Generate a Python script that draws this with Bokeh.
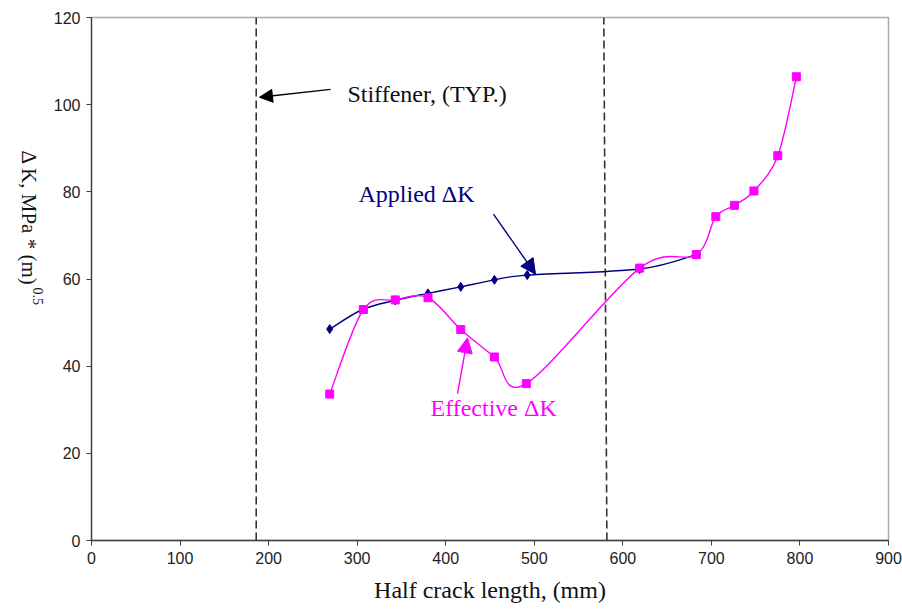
import math
from bokeh.plotting import figure
from bokeh.layouts import row
from bokeh.models import Label, Arrow, NormalHead, FixedTicker, Range1d
from bokeh.core.properties import value
from bokeh.embed import file_html
from bokeh.resources import INLINE

# ---- data ----
applied_x = [269, 306, 343, 380, 417, 455, 492, 619, 683]
applied_y = [48.5, 53.0, 55.1, 56.7, 58.2, 59.8, 60.9, 62.3, 65.6]

effective_x = [269, 307, 343, 380, 417, 455, 491, 619, 683, 705, 726, 748, 775, 796]
effective_y = [33.6, 53.0, 55.2, 55.7, 48.4, 42.1, 36.0, 62.5, 65.6, 74.3, 76.9, 80.2, 88.3, 106.4]

stiffener_x_bottom = [186, 582]
stiffener_x_top = [186, 578.5]

x_ticks = [0, 100, 200, 300, 400, 500, 600, 700, 800, 900]
y_ticks = [0, 20, 40, 60, 80, 100, 120]

NAVY = "#000080"
MAGENTA = "#ff00ff"
SERIF = "Liberation Serif"
SANS = "Liberation Sans"


def smooth_segments(xs, ys):
    """Bezier control points (Catmull-Rom style, as in spreadsheet 'smoothed line')."""
    n = len(xs)
    out = dict(x0=[], y0=[], x1=[], y1=[], cx0=[], cy0=[], cx1=[], cy1=[])
    for i in range(n - 1):
        i0 = max(i - 1, 0)
        i3 = min(i + 2, n - 1)
        out["x0"].append(xs[i]); out["y0"].append(ys[i])
        out["x1"].append(xs[i + 1]); out["y1"].append(ys[i + 1])
        out["cx0"].append(xs[i] + (xs[i + 1] - xs[i0]) / 6.0)
        out["cy0"].append(ys[i] + (ys[i + 1] - ys[i0]) / 6.0)
        out["cx1"].append(xs[i + 1] - (xs[i3] - xs[i]) / 6.0)
        out["cy1"].append(ys[i + 1] - (ys[i3] - ys[i]) / 6.0)
    return out


LEFT_W = 48
TOP, BOTTOM = 17, 70

# ---- left strip holding the rotated y-axis title (its frame is aligned with the main frame) ----
lp = figure(width=LEFT_W, height=610, output_backend="svg", toolbar_location=None,
            x_range=Range1d(0, LEFT_W), y_range=Range1d(610 - BOTTOM, TOP),
            min_border_left=0, min_border_right=0, min_border_top=TOP,
            min_border_bottom=BOTTOM, outline_line_color=None)
lp.axis.visible = False
lp.grid.visible = False
lp.background_fill_color = "white"
lp.border_fill_color = "white"
lp.text(x=[28], y=[150], text=["\u0394 K, MPa * (m)"], angle=-math.pi / 2,
        text_font=value(SERIF), text_font_size="21px", text_color="#111111",
        text_align="left", text_baseline="middle")
lp.text(x=[37], y=[287], text=["0.5"], angle=-math.pi / 2,
        text_font=value(SERIF), text_font_size="14px", text_color="#111111",
        text_align="left", text_baseline="middle")

# ---- main plot ----
p = figure(width=902 - LEFT_W, height=610, output_backend="svg", toolbar_location=None,
           x_range=Range1d(0, 900), y_range=Range1d(0, 120),
           min_border_left=91 - LEFT_W, min_border_right=14, min_border_top=TOP,
           min_border_bottom=BOTTOM)
p.background_fill_color = "white"
p.border_fill_color = "white"
p.outline_line_color = "#a8a8a8"
p.outline_line_width = 1.5
p.xgrid.visible = False
p.ygrid.visible = False

for ax in (p.xaxis[0], p.yaxis[0]):
    ax.axis_line_color = "#404040"
    ax.axis_line_width = 1.3
    ax.major_tick_line_color = "#404040"
    ax.major_tick_out = 5
    ax.major_tick_in = 0
    ax.minor_tick_line_color = None
    ax.major_label_text_font = SANS
    ax.major_label_text_font_size = "16px"
    ax.major_label_text_color = "#222222"

p.xaxis.ticker = FixedTicker(ticks=x_ticks)
p.yaxis.ticker = FixedTicker(ticks=y_ticks)
p.xaxis.major_label_standoff = 6
p.yaxis.major_label_standoff = 6
p.xaxis.axis_label = "Half crack length, (mm)"
p.xaxis.axis_label_text_font = SERIF
p.xaxis.axis_label_text_font_size = "24px"
p.xaxis.axis_label_text_font_style = "normal"
p.xaxis.axis_label_text_color = "#111111"
p.xaxis.axis_label_standoff = 10

# stiffener dashed lines
p.segment(x0=stiffener_x_bottom, y0=[0, 0], x1=stiffener_x_top, y1=[120, 120],
          line_color="#333333", line_width=1.6, line_dash="8 4")

# applied curve
s = smooth_segments(applied_x, applied_y)
p.bezier(line_color=NAVY, line_width=1.4, **s)
p.scatter(applied_x, applied_y, marker="diamond", size=9, color=NAVY)

# effective curve
s = smooth_segments(effective_x, effective_y)
p.bezier(line_color=MAGENTA, line_width=1.4, **s)
p.scatter(effective_x, effective_y, marker="square", size=8, color=MAGENTA)

# annotations
p.add_layout(Arrow(end=NormalHead(size=13, fill_color="black", line_color="black"),
                   x_start=269.9, y_start=103.5, x_end=189.7, y_end=101.7,
                   line_color="black", line_width=1.3))
p.add_layout(Label(x=289, y=102.4, text="Stiffener, (TYP.)", text_font=SERIF,
                   text_font_size="24px", text_color="#111111", text_baseline="middle"))

p.add_layout(Arrow(end=NormalHead(size=15, fill_color=NAVY, line_color=NAVY),
                   x_start=453.9, y_start=74.9, x_end=501.4, y_end=61.1,
                   line_color=NAVY, line_width=1.4))
p.add_layout(Label(x=301.5, y=79.5, text="Applied \u0394K", text_font=SERIF,
                   text_font_size="24px", text_color=NAVY, text_baseline="middle"))

p.add_layout(Arrow(end=NormalHead(size=15, fill_color=MAGENTA, line_color=MAGENTA),
                   x_start=413.3, y_start=33.7, x_end=424.6, y_end=46.5,
                   line_color=MAGENTA, line_width=1.4))
p.add_layout(Label(x=382.8, y=30.5, text="Effective \u0394K", text_font=SERIF,
                   text_font_size="24px", text_color=MAGENTA, text_baseline="middle"))

layout = row(lp, p, spacing=0)
open("out.html", "w").write(file_html(layout, INLINE))
